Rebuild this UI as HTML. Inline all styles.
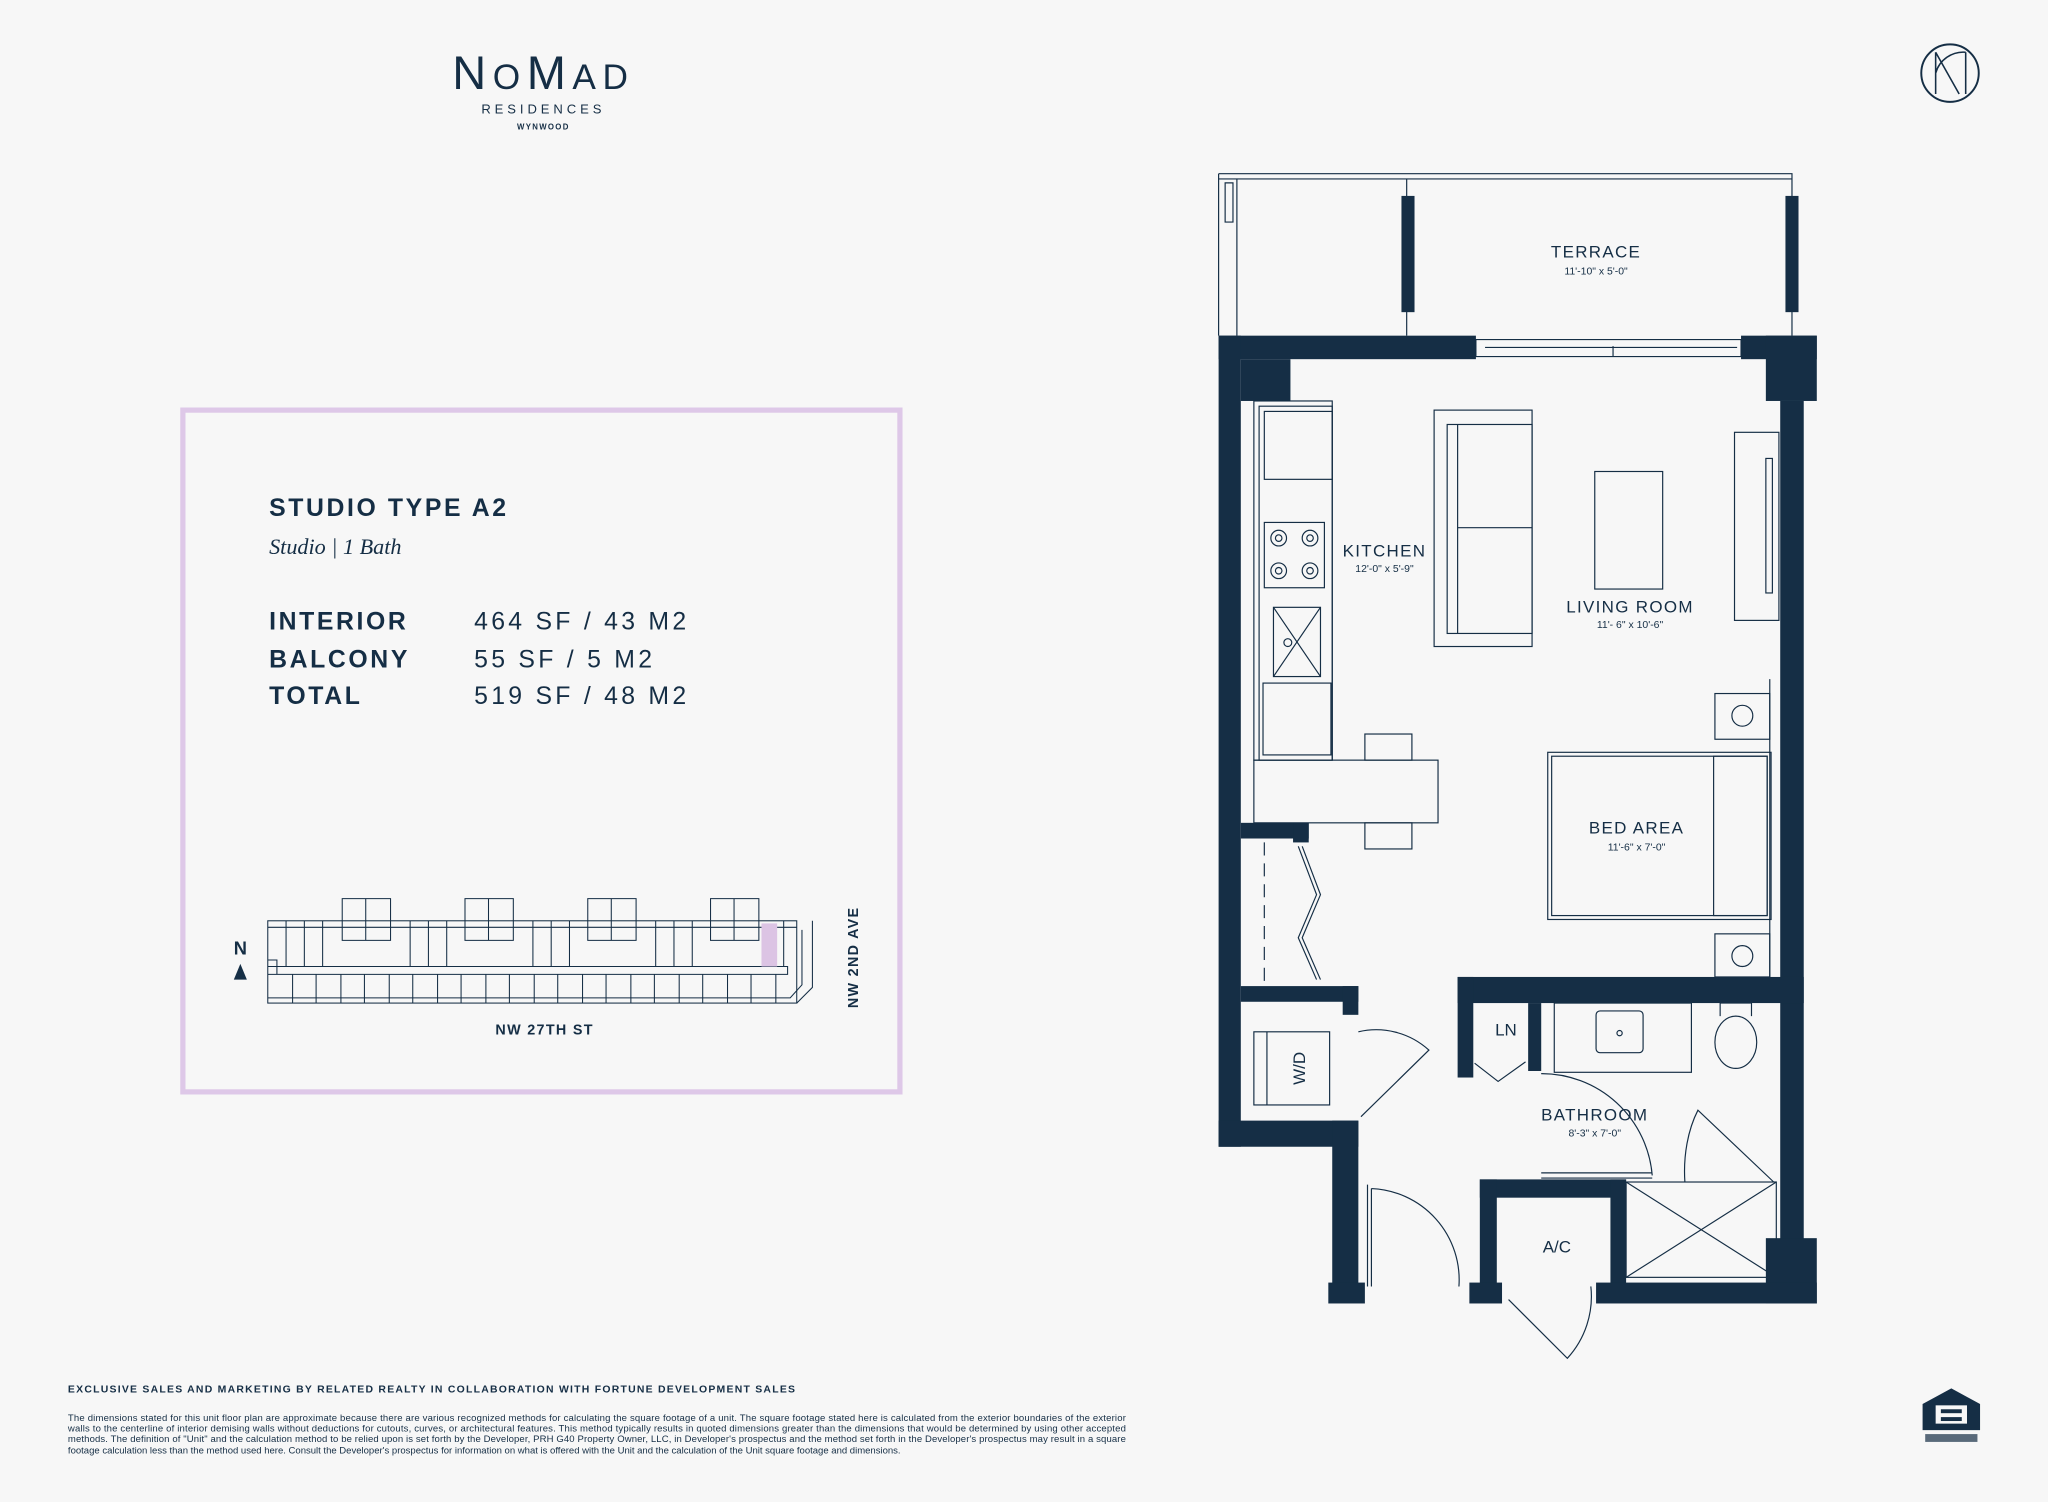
<!DOCTYPE html>
<html><head><meta charset="utf-8"><style>
html,body{margin:0;padding:0;background:#f7f7f7}
svg{display:block}
text{font-family:"Liberation Sans",sans-serif;fill:#152e45}
</style></head><body>
<svg width="2048" height="1502" viewBox="0 0 1568 1150" xmlns="http://www.w3.org/2000/svg">
<rect width="1568" height="1150" fill="#f7f7f7"/>
<!-- logo -->
<text x="416" y="68" text-anchor="middle" font-size="36" letter-spacing="5">N<tspan font-size="27">O</tspan>M<tspan font-size="27">AD</tspan></text>
<text x="416" y="87" text-anchor="middle" font-size="10" letter-spacing="3">RESIDENCES</text>
<text x="416" y="99" text-anchor="middle" font-size="6" font-weight="bold" letter-spacing="1">WYNWOOD</text>
<circle cx="1493" cy="56" r="22" fill="none" stroke="#152e45" stroke-width="1.5"/>
<path d="M1482,40 V72 M1482,40 L1500,72 M1505,40 V72 M1482,56 A22 22 0 0 1 1505,40" fill="none" stroke="#152e45" stroke-width="1.2"/>
<!-- info panel -->
<rect x="140" y="314" width="549" height="522" fill="none" stroke="#dec8e8" stroke-width="4"/>
<text x="206" y="395" font-size="19" font-weight="bold" letter-spacing="2">STUDIO TYPE A2</text>
<text x="206" y="424" font-size="17" font-style="italic" style="font-family:'Liberation Serif',serif">Studio | 1 Bath</text>
<g font-size="19" font-weight="bold" letter-spacing="2">
<text x="206" y="482">INTERIOR</text><text x="206" y="511">BALCONY</text><text x="206" y="539">TOTAL</text></g>
<g font-size="19" letter-spacing="2.5">
<text x="363" y="482">464 SF / 43 M2</text><text x="363" y="511">55 SF / 5 M2</text><text x="363" y="539">519 SF / 48 M2</text></g>
<!-- site plan -->
<g fill="none" stroke="#152e45" stroke-width="0.8">
<rect x="205" y="705" width="405" height="63"/>
<path d="M205,710 H610 M205,740 H603 V746 H205 M205,764 H605 L614,754 V712 M610,768 L622,756 V705"/>
<path d="M224,746V768M242,746V768M261,746V768M279,746V768M298,746V768M316,746V768M335,746V768M353,746V768M372,746V768M390,746V768M409,746V768M427,746V768M446,746V768M464,746V768M483,746V768M501,746V768M520,746V768M538,746V768M557,746V768M575,746V768M594,746V768"/>
<path d="M219,705V740M233,705V740M247,705V740M314,705V740M328,705V740M342,705V740M408,705V740M422,705V740M436,705V740M502,705V740M516,705V740M530,705V740M600,705V740"/>
<path d="M262,688H299V720H262Z M280,688V720 M356,688H393V720H356Z M374,688V720 M450,688H487V720H450Z M468,688V720 M544,688H581V720H544Z M562,688V720"/>
<path d="M205,735H212V746"/>
</g>
<rect x="583" y="707" width="12" height="33" fill="#dcc4e4"/>
<text x="184" y="731" text-anchor="middle" font-size="14" font-weight="bold">N</text>
<path d="M179,750 L184,738 L189,750Z" fill="#152e45"/>
<text x="417" y="792" text-anchor="middle" font-size="11" font-weight="bold" letter-spacing="1">NW 27TH ST</text>
<text transform="translate(657,733) rotate(-90)" text-anchor="middle" font-size="11" font-weight="bold" letter-spacing="1">NW 2ND AVE</text>
<!-- floor plan -->
<g fill="none" stroke="#152e45" stroke-width="0.9">
<path d="M933,133H1372V257 M933,137H1372 M947,137V257 M933,133V257 M938,140H944V170H938Z M1077,137V257"/>
<path d="M1130,260H1333V273H1130Z M1137,266H1330 M1235,265V273"/>
<rect x="960" y="307" width="60" height="275"/><rect x="964" y="311" width="56" height="271"/>
<rect x="968" y="315" width="52" height="52"/><rect x="968" y="400" width="46" height="50"/>
<rect x="975" y="465" width="36" height="53"/><path d="M975,465L1011,518M1011,465L975,518"/><circle cx="986" cy="492" r="3"/>
<rect x="967" y="523" width="52" height="55"/>
<circle cx="979" cy="412" r="6"/><circle cx="1003" cy="412" r="6"/><circle cx="979" cy="437" r="6"/><circle cx="1003" cy="437" r="6"/>
<circle cx="979" cy="412" r="2.5"/><circle cx="1003" cy="412" r="2.5"/><circle cx="979" cy="437" r="2.5"/><circle cx="1003" cy="437" r="2.5"/>
<rect x="960" y="582" width="141" height="48"/><rect x="1045" y="562" width="36" height="20"/><rect x="1045" y="630" width="36" height="20"/>
<rect x="1098" y="314" width="75" height="181"/><rect x="1108" y="325" width="65" height="160"/><path d="M1116,325V485M1116,404H1173"/>
<rect x="1221" y="361" width="52" height="90"/>
<rect x="1328" y="331" width="34" height="144"/><rect x="1352" y="351" width="5" height="103"/>
<rect x="1185" y="576" width="171" height="128"/><rect x="1188" y="579" width="165" height="122"/><rect x="1312" y="579" width="41" height="122"/>
<rect x="1313" y="531" width="42" height="35"/><circle cx="1334" cy="548" r="8"/>
<rect x="1313" y="715" width="42" height="33"/><circle cx="1334" cy="732" r="8"/>
<path d="M1355,520V748"/>
<path d="M968,645V755" stroke-dasharray="10,6"/>
<path d="M994,648L1008,685L994,718L1008,750 M997,648L1011,685L997,718L1011,750"/>
<rect x="960" y="790" width="58" height="56"/><path d="M970,790V846"/>
<path d="M1040,790A60 60 0 0 1 1094,804 L1042,855"/>
<path d="M1047,907V985 M1050,910V985 M1050,910A70 70 0 0 1 1117,985"/>
<rect x="1190" y="768" width="105" height="53"/><rect x="1222" y="774" width="36" height="32" rx="3"/><circle cx="1240" cy="791" r="2"/>
<ellipse cx="1329" cy="798" rx="16" ry="20"/><path d="M1317,778V768H1341V778"/>
<path d="M1129,814L1147,828L1168,813"/>
<path d="M1180,822A85 85 0 0 1 1265,900"/><path d="M1180,902H1265M1180,898H1265"/>
<rect x="1245" y="905" width="115" height="73"/><path d="M1245,905L1360,978M1360,905L1245,978"/>
<path d="M1290,905A40 70 0 0 1 1300,850L1358,905"/>
<path d="M1155,995L1200,1040A70 70 0 0 0 1218,985"/>
</g>
<g fill="#152e45">
<rect x="1073" y="150" width="10" height="89"/><rect x="1367" y="150" width="10" height="89"/>
<rect x="933" y="257" width="197" height="18"/><rect x="1333" y="257" width="58" height="18"/><rect x="1352" y="257" width="39" height="50"/>
<rect x="933" y="257" width="17" height="621"/><rect x="950" y="275" width="38" height="32"/>
<rect x="1363" y="307" width="18" height="691"/><rect x="1352" y="948" width="39" height="50"/>
<rect x="950" y="630" width="52" height="12"/><rect x="990" y="630" width="12" height="15"/>
<rect x="950" y="755" width="90" height="12"/><rect x="1028" y="755" width="12" height="22"/>
<rect x="933" y="858" width="107" height="20"/><rect x="1020" y="858" width="20" height="127"/><rect x="1017" y="982" width="28" height="16"/>
<rect x="1116" y="748" width="265" height="20"/><rect x="1116" y="748" width="12" height="77"/><rect x="1170" y="768" width="10" height="52"/>
<rect x="1133" y="903" width="112" height="14"/><rect x="1133" y="903" width="13" height="82"/><rect x="1125" y="982" width="25" height="16"/>
<rect x="1233" y="903" width="12" height="82"/><rect x="1222" y="982" width="169" height="16"/>
</g>
<g text-anchor="middle">
<text x="1222" y="197" font-size="13" letter-spacing="1">TERRACE</text><text x="1222" y="210" font-size="8">11'-10" x 5'-0"</text>
<text x="1060" y="426" font-size="13" letter-spacing="1">KITCHEN</text><text x="1060" y="438" font-size="8">12'-0" x 5'-9"</text>
<text x="1248" y="469" font-size="13" letter-spacing="1">LIVING ROOM</text><text x="1248" y="481" font-size="8">11'- 6" x 10'-6"</text>
<text x="1253" y="638" font-size="13" letter-spacing="1">BED AREA</text><text x="1253" y="651" font-size="8">11'-6" x 7'-0"</text>
<text x="1153" y="793" font-size="13">LN</text>
<text x="1221" y="858" font-size="13" letter-spacing="1">BATHROOM</text><text x="1221" y="870" font-size="8">8'-3" x 7'-0"</text>
<text x="1192" y="959" font-size="13">A/C</text>
<text transform="translate(999,818) rotate(-90)" font-size="13">W/D</text>
</g>
<!-- footer -->
<text x="52" y="1066" font-size="8" font-weight="bold" letter-spacing="0.95">EXCLUSIVE SALES AND MARKETING BY RELATED REALTY IN COLLABORATION WITH FORTUNE DEVELOPMENT SALES</text>
<g font-size="7.3">
<text x="52" y="1088" textLength="810">The dimensions stated for this unit floor plan are approximate because there are various recognized methods for calculating the square footage of a unit.  The square footage stated here is calculated from the exterior boundaries of the exterior</text>
<text x="52" y="1096" textLength="810">walls to the centerline of interior demising walls without deductions for cutouts, curves, or architectural features. This method typically results in quoted dimensions greater than the dimensions that would be determined by using other accepted</text>
<text x="52" y="1104" textLength="810">methods. The definition of "Unit" and the calculation method to be relied upon is set forth by the Developer, PRH G40 Property Owner, LLC, in Developer's prospectus and the method set forth in the Developer's prospectus may result in a square</text>
<text x="52" y="1113">footage calculation less than the method used here. Consult the Developer's prospectus for information on what is offered with the Unit and the calculation of the Unit square footage and dimensions.</text>
</g>
<path d="M1472,1075L1494,1063L1516,1075V1095H1472Z" fill="#152e45"/>
<rect x="1482" y="1076" width="24" height="14" fill="#f7f7f7"/><rect x="1486" y="1079" width="16" height="3" fill="#152e45"/><rect x="1486" y="1085" width="16" height="3" fill="#152e45"/>
<rect x="1474" y="1098" width="40" height="6" fill="#152e45" opacity="0.7"/>
</svg>
</body></html>
